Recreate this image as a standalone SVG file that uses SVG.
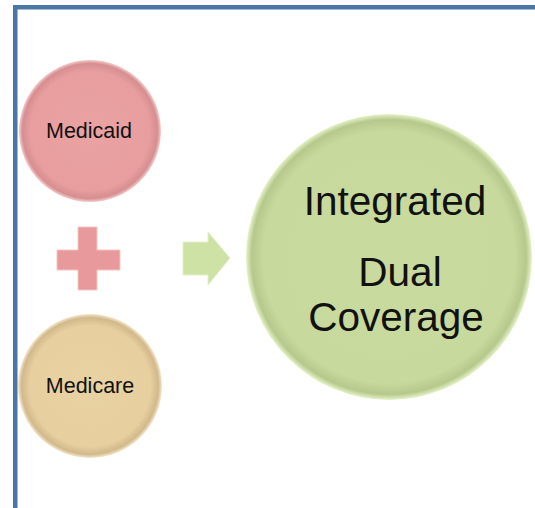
<svg xmlns="http://www.w3.org/2000/svg" width="535" height="508" viewBox="0 0 535 508">
<defs>
<radialGradient id="gRed" cx="0.5" cy="0.5" r="0.5">
<stop offset="0" stop-color="#eaa2a3"/>
<stop offset="0.84" stop-color="#e89e9f"/>
<stop offset="0.95" stop-color="#d68e90"/>
<stop offset="1" stop-color="#f5cccc"/>
</radialGradient>
<radialGradient id="gTan" cx="0.5" cy="0.5" r="0.5">
<stop offset="0" stop-color="#e9d2a2"/>
<stop offset="0.84" stop-color="#e7cf9f"/>
<stop offset="0.95" stop-color="#d2b98c"/>
<stop offset="1" stop-color="#f5e8cc"/>
</radialGradient>
<radialGradient id="gGreen" cx="0.5" cy="0.5" r="0.5">
<stop offset="0" stop-color="#c9da9e"/>
<stop offset="0.88" stop-color="#c7d99c"/>
<stop offset="0.96" stop-color="#b6c88c"/>
<stop offset="1" stop-color="#e6f3c9"/>
</radialGradient>
</defs>
<style>
.lbl{font-family:"Liberation Sans",Arial,sans-serif;fill:#111;text-anchor:middle}
.sm{font-size:21.5px}
.lg{font-size:40.5px}
</style>
<rect width="535" height="508" fill="#ffffff"/>
<g id="frame" fill="#4a76a8">
<rect x="13" y="5" width="522" height="4.5"/>
<rect x="13" y="5" width="4.5" height="503"/>
</g>
<g id="medicaid">
<circle cx="90" cy="131" r="71" fill="url(#gRed)"/>
<text class="lbl sm" x="89" y="138">Medicaid</text>
</g>
<g id="medicare">
<circle cx="90" cy="386" r="72" fill="url(#gTan)"/>
<text class="lbl sm" x="90" y="393">Medicare</text>
</g>
<g id="integrated">
<circle cx="389" cy="257" r="143" fill="url(#gGreen)"/>
<text class="lbl lg" x="395" y="215">Integrated</text>
<text class="lbl lg" x="400" y="286">Dual</text>
<text class="lbl lg" x="396" y="331">Coverage</text>
</g>
<g id="connectors">
<polygon points="78,227 97,227 97,250 120,250 120,270 97,270 97,290 78,290 78,270 57,270 57,250 78,250" fill="#e8999b" stroke="#f3c4c4" stroke-width="1"/>
<polygon points="183,242 208,242 208,232 230,258 208,285 208,275 183,275" fill="#cfe2a5" stroke="#e4f0c6" stroke-width="1"/>
</g>
</svg>
